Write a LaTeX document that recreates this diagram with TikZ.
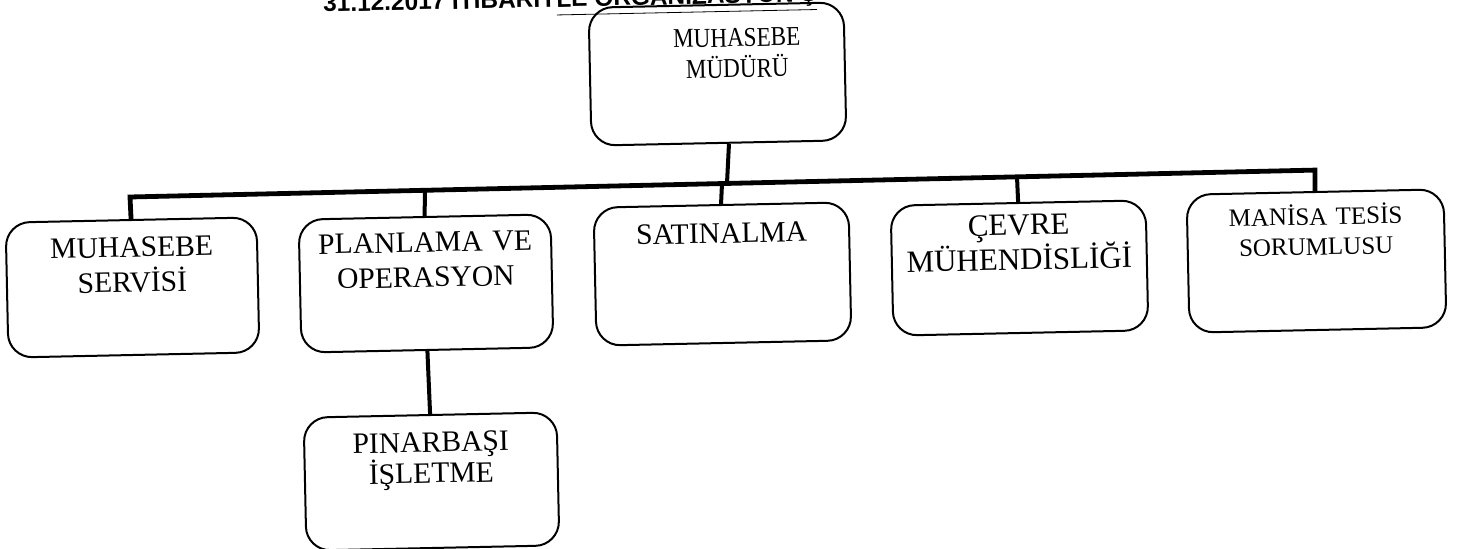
\documentclass[tikz,border=0pt]{standalone}
\usepackage{fontspec}
\setmainfont{Liberation Serif}
\newfontfamily\titlefont{Liberation Sans}
\newfontfamily\narrowserif[FakeStretch=0.85]{Liberation Serif}
\begin{document}
\begin{tikzpicture}[x=0.5pt,y=-0.5pt,
  orgbox/.style={draw, line width=1pt, rounded corners=12pt, inner sep=0pt, align=center, rotate=1.2},
  busline/.style={line width=2.4pt, line join=miter},
  dropline/.style={line width=2pt}]
\useasboundingbox (0,0) rectangle (1457,549);
% title (cut at the top edge)
\node[anchor=base west, rotate=1.2, inner sep=0pt,
      font=\titlefont\bfseries\fontsize{12.2}{14}\selectfont] (title) at (323,12)
  {31.12.2017 İTİBARİY\underline{LE ORGANİZASYON Ş}};
% boxes
\node[orgbox, text width=127.5pt, text height=21pt, text depth=48pt,
      font=\narrowserif\fontsize{13.6}{15.5}\selectfont] (mudur) at (717.5,74)
  {\hspace*{20pt}MUHASEBE\\\hspace*{20pt}MÜDÜRÜ};
\node[orgbox, text width=125.5pt, text height=18.5pt, text depth=49pt,
      font=\fontsize{14.8}{17.5}\selectfont] (servis) at (132.5,287.5)
  {MUHASEBE\\SERVİSİ};
\node[orgbox, text width=126pt, text height=17.5pt, text depth=49pt,
      font=\fontsize{14.8}{17.5}\selectfont] (plan) at (426,283.5)
  {PLANLAMA VE\\OPERASYON};
\node[orgbox, text width=126.5pt, text height=18.5pt, text depth=48pt,
      font=\fontsize{14.8}{15.5}\selectfont] (pinar) at (431.5,481.5)
  {PINARBAŞI\hspace*{10pt}\\İŞLETME\hspace*{2pt}};
\node[orgbox, text width=127.5pt, text height=19pt, text depth=50pt,
      font=\fontsize{14.8}{17.5}\selectfont] (satin) at (722.5,274)
  {SATINALMA};
\node[orgbox, text width=127.5pt, text height=16pt, text depth=49pt,
      font=\fontsize{15.5}{14}\selectfont] (cevre) at (1019.5,268)
  {ÇEVRE\hspace*{7pt}\\MÜHENDİSLİĞİ\hspace*{7pt}};
\node[orgbox, text width=128.5pt, text height=16.5pt, text depth=52.5pt,
      font=\fontsize{12.5}{15}\selectfont] (manisa) at (1316.5,261)
  {MANİSA TESİS\\SORUMLUSU};
% bus coordinates
\coordinate (b1) at (130,197);
\coordinate (b2) at (425,190.3);
\coordinate (b3) at (722,183.5);
\coordinate (bt) at (727,183.4);
\coordinate (b4) at (1017,176.8);
\coordinate (b5) at (1315,170.1);
% connectors
\draw[busline] (servis.north) -- (b1) -- (b5) -- (manisa.north);
\draw[dropline] (b2) -- (plan.north);
\draw[dropline] (b3) -- (satin.north);
\draw[dropline] (b4) -- (cevre.north);
\draw[dropline] ([xshift=5pt]mudur.south) -- (bt);
\draw[dropline] (plan.south) -- (pinar.north);
\end{tikzpicture}
\end{document}
